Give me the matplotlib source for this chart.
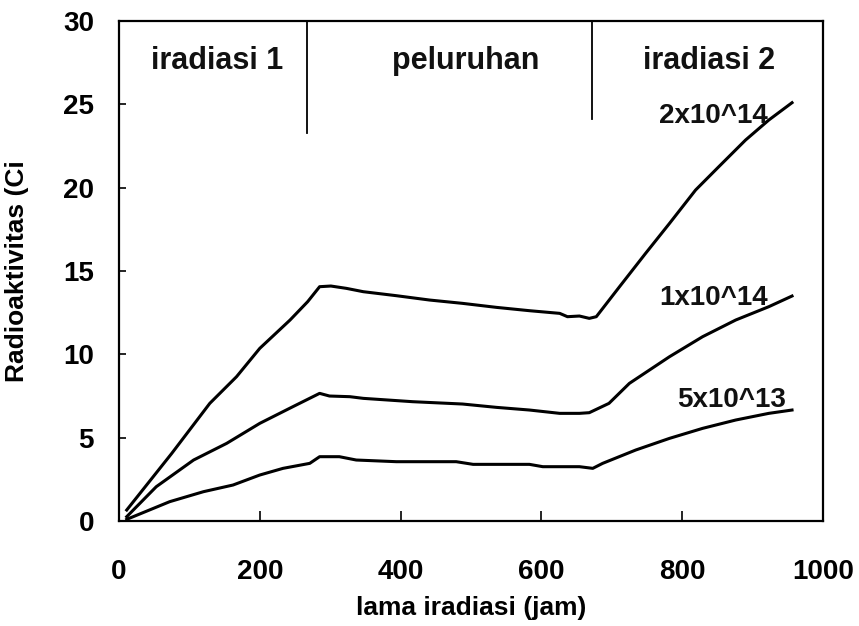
import matplotlib
matplotlib.use("Agg")
import matplotlib.pyplot as plt

plt.rcParams['font.family'] = ['Liberation Sans', 'DejaVu Sans']
plt.rcParams['font.weight'] = 'bold'
plt.rcParams['axes.labelweight'] = 'bold'

# 2x10^14
x_top = [11, 75, 129, 167, 200, 243, 268, 285, 301, 323, 347, 394, 441, 488,
         536, 583, 626, 637, 654, 668, 678, 711, 748, 782, 819, 852, 890, 923, 956]
y_top = [0.66, 4.06, 7.06, 8.66, 10.36, 12.06, 13.16, 14.06, 14.1, 13.96, 13.76,
         13.52, 13.26, 13.06, 12.82, 12.62, 12.46, 12.26, 12.3, 12.16, 12.26,
         14.06, 16.06, 17.86, 19.86, 21.26, 22.86, 24.06, 25.1]

# 1x10^14
x_mid = [11, 53, 106, 153, 200, 247, 285, 299, 328, 347, 417, 488, 536, 583,
         626, 654, 668, 696, 725, 782, 829, 876, 923, 956]
y_mid = [0.26, 2.06, 3.66, 4.66, 5.86, 6.86, 7.66, 7.5, 7.46, 7.36, 7.16, 7.02,
         6.82, 6.66, 6.46, 6.46, 6.5, 7.06, 8.26, 9.86, 11.06, 12.06, 12.86, 13.5]

# 5x10^13
x_low = [11, 72, 120, 162, 200, 233, 271, 285, 313, 337, 394, 479, 503, 583,
         602, 654, 673, 687, 734, 782, 829, 876, 923, 956]
y_low = [0.1, 1.16, 1.76, 2.16, 2.76, 3.16, 3.46, 3.86, 3.86, 3.66, 3.56, 3.56,
         3.4, 3.4, 3.26, 3.26, 3.16, 3.46, 4.26, 4.96, 5.56, 6.06, 6.46, 6.66]

curve_labels = ['2x10^14', '1x10^14', '5x10^13']
label_pos = [(844, 23.9), (844, 12.96), (870, 6.84)]

phase_names = ['iradiasi 1', 'peluruhan', 'iradiasi 2']
phase_centers = [140, 493, 838]
phase_bounds = [267, 672]
phase_line_bottom = [23.3, 24.1]

fig = plt.figure(figsize=(8.59, 6.26), dpi=100)
ax = fig.add_axes([0.1385, 0.1677, 0.8196, 0.7987])

for xs, ys in [(x_top, y_top), (x_mid, y_mid), (x_low, y_low)]:
    ax.plot(xs, ys, color='black', lw=2.2, solid_joinstyle='round')

for txt, (lx, ly) in zip(curve_labels, label_pos):
    ax.text(lx, ly, txt, fontsize=20, ha='center', va='baseline', color='#111111')

for bx, yb in zip(phase_bounds, phase_line_bottom):
    ax.plot([bx, bx], [yb, 30], color='black', lw=1.3)

for name, cx in zip(phase_names, phase_centers):
    ax.text(cx, 27.1, name, fontsize=22, ha='center', va='baseline', color='#111111')

ax.set_xlim(0, 1000)
ax.set_ylim(0, 30)
ax.set_xticks([0, 200, 400, 600, 800, 1000])
ax.set_yticks([0, 5, 10, 15, 20, 25, 30])
ax.tick_params(axis='x', direction='in', length=7, width=1.2, pad=27, labelsize=20)
ax.tick_params(axis='y', direction='in', length=5, width=1.2, pad=18, labelsize=20)
for s in ax.spines.values():
    s.set_linewidth(1.6)

ax.set_xlabel('lama iradiasi (jam)', fontsize=19, labelpad=8)
ax.set_ylabel('Radioaktivitas (Ci', fontsize=19)
ax.yaxis.set_label_coords(-0.128, 0.5)

fig.savefig('out.png', dpi=100)
